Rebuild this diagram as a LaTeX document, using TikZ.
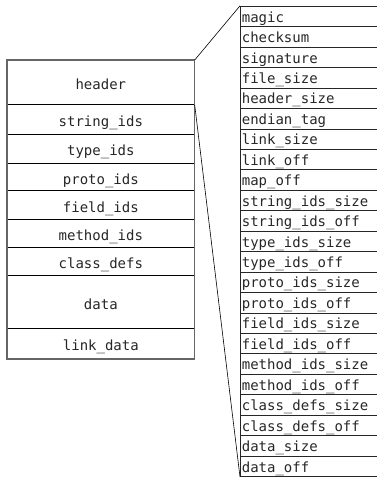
\documentclass[tikz,border=0pt]{standalone}
\usepackage{fontspec}
\setmonofont{DejaVu Sans Mono}

\begin{document}
\begin{tikzpicture}[x=1pt,y=-1pt]
\tikzset{
  section/.style={rectangle,draw=black,line width=0.7pt,anchor=north west,minimum width=187pt,inner sep=0pt,
    text height=14.5pt,text depth=0pt,text=black!85,font=\ttfamily\fontsize{14}{16}\selectfont},
  frame/.style={draw=black!60,line width=1.1pt},
  field/.style={rectangle,draw=black!85,line width=0.7pt,anchor=north west,minimum width=138pt,minimum height=20.45pt,
    inner xsep=1.5pt,inner ysep=0pt,text width=135pt,align=left,text height=15.95pt,text depth=4.5pt,
    text=black!85,font=\ttfamily\fontsize{14}{16}\selectfont},
  zoomline/.style={draw=black,line width=0.6pt}
}
\useasboundingbox (0,0) rectangle (376,477);
% file sections
\node[section,minimum height=44.3pt] (n_header) at (7,60) {header};
\node[section,minimum height=29.7pt] (n_string_ids) at (7,104.3) {string\_ids};
\node[section,minimum height=28.7pt] (n_type_ids) at (7,134) {type\_ids};
\node[section,minimum height=27.6pt] (n_proto_ids) at (7,162.7) {proto\_ids};
\node[section,minimum height=28.7pt] (n_field_ids) at (7,190.3) {field\_ids};
\node[section,minimum height=27.7pt] (n_method_ids) at (7,219) {method\_ids};
\node[section,minimum height=28.3pt] (n_class_defs) at (7,246.7) {class\_defs};
\node[section,minimum height=53.3pt] (n_data) at (7,275) {data};
\node[section,minimum height=30pt] (n_link_data) at (7,328.3) {link\_data};
\draw[frame] (n_header.north west) rectangle (n_link_data.south east);
% header fields
\node[field] (f_magic) at (240,5.8) {magic};
\node[field] (f_checksum) at (240,26.25) {checksum};
\node[field] (f_signature) at (240,46.7) {signature};
\node[field] (f_file_size) at (240,67.15) {file\_size};
\node[field] (f_header_size) at (240,87.6) {header\_size};
\node[field] (f_endian_tag) at (240,108.05) {endian\_tag};
\node[field] (f_link_size) at (240,128.5) {link\_size};
\node[field] (f_link_off) at (240,148.95) {link\_off};
\node[field] (f_map_off) at (240,169.4) {map\_off};
\node[field] (f_string_ids_size) at (240,189.85) {string\_ids\_size};
\node[field] (f_string_ids_off) at (240,210.3) {string\_ids\_off};
\node[field] (f_type_ids_size) at (240,230.75) {type\_ids\_size};
\node[field] (f_type_ids_off) at (240,251.2) {type\_ids\_off};
\node[field] (f_proto_ids_size) at (240,271.65) {proto\_ids\_size};
\node[field] (f_proto_ids_off) at (240,292.1) {proto\_ids\_off};
\node[field] (f_field_ids_size) at (240,312.55) {field\_ids\_size};
\node[field] (f_field_ids_off) at (240,333.0) {field\_ids\_off};
\node[field] (f_method_ids_size) at (240,353.45) {method\_ids\_size};
\node[field] (f_method_ids_off) at (240,373.9) {method\_ids\_off};
\node[field] (f_class_defs_size) at (240,394.35) {class\_defs\_size};
\node[field] (f_class_defs_off) at (240,414.8) {class\_defs\_off};
\node[field] (f_data_size) at (240,435.25) {data\_size};
\node[field] (f_data_off) at (240,455.7) {data\_off};
% zoom lines
\draw[zoomline] (n_header.north east) -- (f_magic.north west);
\draw[zoomline] (n_header.south east) -- (f_data_off.south west);
\end{tikzpicture}
\end{document}
